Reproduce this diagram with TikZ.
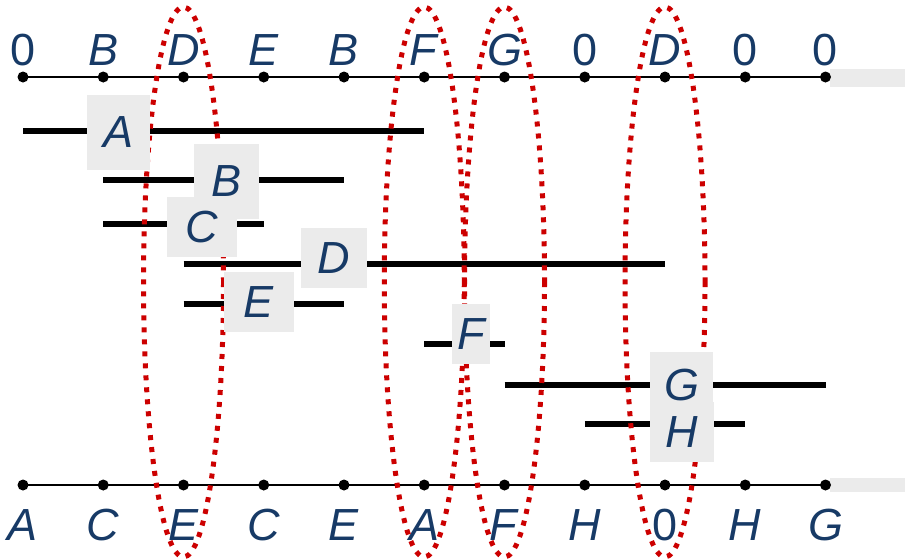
\documentclass[tikz,border=0pt]{standalone}
\usepackage{fontspec}
\setmainfont{Liberation Sans}
\definecolor{labblue}{HTML}{173A66}
\definecolor{boxgray}{HTML}{EBEBEB}
\definecolor{ovalred}{HTML}{CC0000}
\tikzset{
  dot/.style={circle, fill=black, inner sep=0pt, minimum size=11pt},
  axlab/.style={anchor=base, text=labblue, font=\fontsize{45}{52}\selectfont},
  seg/.style={line width=6pt},
  lbl/.style={fill=boxgray, text=labblue, inner sep=0pt, font=\fontsize{45}{52}\selectfont\itshape},
  oval/.style={ovalred, line width=5pt, dash pattern=on 5pt off 7pt}
}
\begin{document}
\begin{tikzpicture}[x=1pt, y=-1pt]
        \useasboundingbox (0,0) rectangle (905,558);

        % Axes
        \fill[boxgray] (830,69) rectangle (905,87);
        \fill[boxgray] (830,478) rectangle (905,492);
        \foreach \i in {0,...,10} {
            \node [dot] (t\i) at ({23+80.25*\i}, 77) {};
            \node [dot] (b\i) at ({23+80.25*\i}, 485) {};
        }
        \draw [line width=2.5pt] (t0.center) -- (t10.center);
        \draw [line width=2.5pt] (b0.center) -- (b10.center);

        % Labels
        \foreach \i/\t in {0/0, 1/\textit{B}, 2/\textit{D}, 3/\textit{E}, 4/\textit{B}, 5/\textit{F},
                           6/\textit{G}, 7/0, 8/\textit{D}, 9/0, 10/0}
            \node [axlab] (tl\i) at (t\i |- 0,65) {\t};
        \foreach \i/\t in {0/\textit{A}, 1/\textit{C}, 2/\textit{E}, 3/\textit{C}, 4/\textit{E}, 5/\textit{A},
                           6/\textit{F}, 7/\textit{H}, 8/0, 9/\textit{H}, 10/\textit{G}}
            \node [axlab] (bl\i) at (b\i |- 0,540) {\t};

        % Intervals
        \foreach \n/\s/\e/\y in {a/0/5/131, b/1/4/180, c/1/3/224, d/2/8/264,
                                 e/2/4/304, f/5/6/344, g/6/10/385, h/7/9/424} {
            \coordinate (\n1) at (t\s |- 0,\y);
            \coordinate (\n2) at (t\e |- 0,\y);
            \draw [seg] (\n1) -- (\n2);
        }

        % Ovals
        \foreach \i in {2, 5, 6, 8}
            \draw [oval] (t\i |- 0,282) ellipse [x radius=40, y radius=275];

        % Boxes
        \node [lbl, minimum width=63pt, minimum height=75pt] (la) at (118.5,132.5) {A};
        \node [lbl, minimum width=65pt, minimum height=75pt] (lb) at (226.5,181.5) {B};
        \node [lbl, minimum width=70pt, minimum height=60pt] (lc) at (202,227) {C};
        \node [lbl, minimum width=66pt, minimum height=60pt] (ld) at (334,258) {D};
        \node [lbl, minimum width=70pt, minimum height=60pt] (le) at (259,302) {E};
        \node [lbl, minimum width=38pt, minimum height=60pt] (lf) at (471,334) {F};
        \node [lbl, minimum width=63pt, minimum height=66pt] (lg) at (681.5,385) {G};
        \node [lbl, minimum width=64pt, minimum height=60pt] (lh) at (682,432) {H};
\end{tikzpicture}
\end{document}
